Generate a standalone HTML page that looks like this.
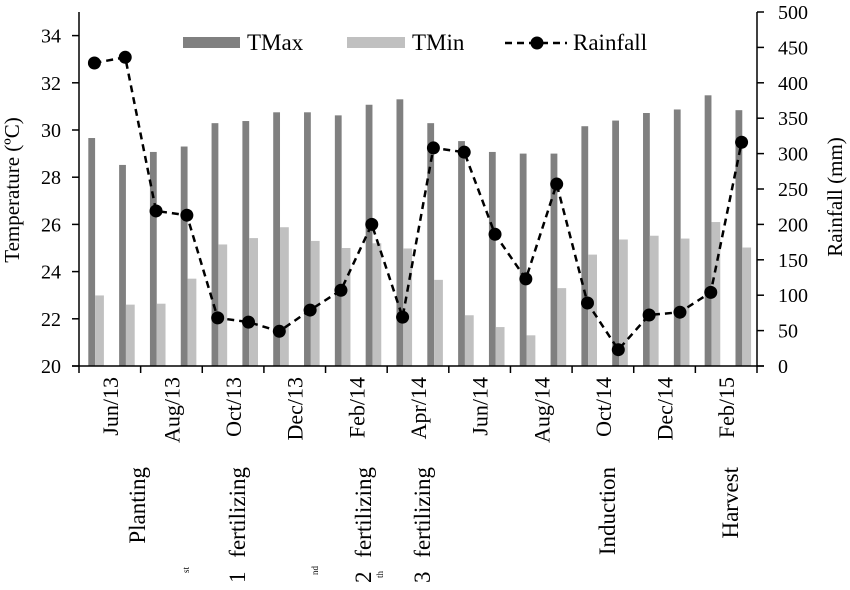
<!DOCTYPE html>
<html><head><meta charset="utf-8"><style>
html,body{margin:0;padding:0;background:#fff;}
svg{display:block;font-family:"Liberation Serif",serif;}
</style></head><body>
<svg id="chart" width="850" height="590" viewBox="0 0 850 590" xmlns="http://www.w3.org/2000/svg"></svg>
<script>
const months = ["Jun/13","Jul/13","Aug/13","Sep/13","Oct/13","Nov/13","Dec/13","Jan/14","Feb/14","Mar/14","Apr/14","May/14","Jun/14","Jul/14","Aug/14","Sep/14","Oct/14","Nov/14","Dec/14","Jan/15","Feb/15","Mar/15"];
const tmax = [29.66,28.52,29.07,29.3,30.29,30.38,30.75,30.75,30.62,31.07,31.3,30.29,29.53,29.07,29.0,29.0,30.16,30.4,30.72,30.87,31.47,30.84];
const tmin = [22.99,22.6,22.64,23.7,25.15,25.42,25.88,25.3,25.0,25.2,24.98,23.65,22.15,21.65,21.3,23.3,24.72,25.36,25.52,25.4,26.1,25.02];
const rainfall = [428,436,219,213,68,62,49,79,107,200,69,308,302,186,123,257,89,23,72,76,104,316];
const tempTicks = [20,22,24,26,28,30,32,34];
const rainTicks = [0,50,100,150,200,250,300,350,400,450,500];
const xLabels = ["Jun/13","Aug/13","Oct/13","Dec/13","Feb/14","Apr/14","Jun/14","Aug/14","Oct/14","Dec/14","Feb/15"];

const NS="http://www.w3.org/2000/svg";
const svg=document.getElementById('chart');
function mk(tag,attrs,parent){const e=document.createElementNS(NS,tag);for(const k in attrs)e.setAttribute(k,attrs[k]);(parent||svg).appendChild(e);return e;}
const X0=79,X1=757,Y0=366,YT=12;
const cw=(X1-X0)/months.length;
const yT=v=>Y0-(v-20)/(35-20)*(Y0-YT);
const yR=v=>Y0-v/500*(Y0-YT);
const xc=i=>X0+cw*i;

tmax.forEach((v,i)=>{
  const r=mk('rect',{x:xc(i)+9.3,y:yT(v),width:6.8,height:Y0-yT(v),fill:'#808080'});
  
  
});
tmin.forEach((v,i)=>{
  const r=mk('rect',{x:xc(i)+16.1,y:yT(v),width:8.8,height:Y0-yT(v),fill:'#c0c0c0'});
  
  
});
const pts=rainfall.map((v,i)=>(xc(i)+cw/2)+','+yR(v)).join(' ');
const pl=mk('polyline',{points:pts,fill:'none',stroke:'#000','stroke-width':2.5,'stroke-dasharray':'7,5'});


rainfall.forEach((v,i)=>{
  const c=mk('circle',{cx:xc(i)+cw/2,cy:yR(v),r:6.5,fill:'#000'});
  
  
});
const ax=mk('g',{stroke:'#000','stroke-width':1.5,fill:'none'});


mk('line',{x1:X0,y1:YT,x2:X0,y2:Y0},ax);
mk('line',{x1:X1,y1:YT,x2:X1,y2:Y0},ax);
mk('line',{x1:X0-7,y1:Y0,x2:X1+7,y2:Y0},ax);
tempTicks.forEach(v=>mk('line',{x1:X0-7,y1:yT(v),x2:X0,y2:yT(v)},ax));
rainTicks.forEach(v=>mk('line',{x1:X1,y1:yR(v),x2:X1+7,y2:yR(v)},ax));
for(let i=0;i<=months.length;i+=2)mk('line',{x1:xc(i),y1:Y0,x2:xc(i),y2:Y0+7},ax);
tempTicks.forEach(v=>{const t=mk('text',{x:61,y:yT(v)+7,'text-anchor':'end','font-size':20});t.textContent=v;
  });
rainTicks.forEach(v=>{const t=mk('text',{x:778,y:yR(v)+7,'font-size':20});t.textContent=v;
  });
xLabels.forEach((s,k)=>{const x=xc(2*k+1)+8,y=377;
  const t=mk('text',{x:x,y:y,'text-anchor':'end','font-size':22,transform:`rotate(-90 ${x} ${y})`});t.textContent=s;
  });
</script>
<svg style="position:absolute;left:0;top:0" width="850" height="590" font-family="Liberation Serif, serif">
 <text x="19" y="190" font-size="21" text-anchor="middle" transform="rotate(-90 19 190)">Temperature (ºC)</text>
 <text x="842" y="197" font-size="21" text-anchor="middle" transform="rotate(-90 842 197)">Rainfall (mm)</text>
 <rect x="183" y="37" width="57" height="11" fill="#808080"/>
 <text x="247" y="50" font-size="23">TMax</text>
 <rect x="347" y="37" width="58" height="11" fill="#c0c0c0"/>
 <text x="412" y="50" font-size="23">TMin</text>
 <line x1="505" y1="43" x2="567" y2="43" stroke="#000" stroke-width="2.5" stroke-dasharray="7,5"/>
 <circle cx="537" cy="43" r="6.5" fill="#000"/>
 <text x="573" y="50" font-size="23">Rainfall</text>
 <g font-size="23">
 <text x="145" y="467" text-anchor="end" transform="rotate(-90 145 467)">Planting</text>
 <text x="245" y="467" text-anchor="end" transform="rotate(-90 245 467)">fertilizing</text>
 <text x="245" y="583" transform="rotate(-90 245 583)">1</text>
 <text x="371" y="467" text-anchor="end" transform="rotate(-90 371 467)">fertilizing</text>
 <text x="371" y="583" transform="rotate(-90 371 583)">2</text>
 <text x="430" y="467" text-anchor="end" transform="rotate(-90 430 467)">fertilizing</text>
 <text x="430" y="583" transform="rotate(-90 430 583)">3</text>
 <text x="615" y="467" text-anchor="end" transform="rotate(-90 615 467)">Induction</text>
 <text x="738" y="467" text-anchor="end" transform="rotate(-90 738 467)">Harvest</text>
 </g>
 <text x="189" y="573" font-size="9" transform="rotate(-90 189 573)">st</text>
 <text x="318" y="575" font-size="9" transform="rotate(-90 318 575)">nd</text>
 <text x="383" y="578" font-size="9" transform="rotate(-90 383 578)">th</text>
</svg>
</body></html>
